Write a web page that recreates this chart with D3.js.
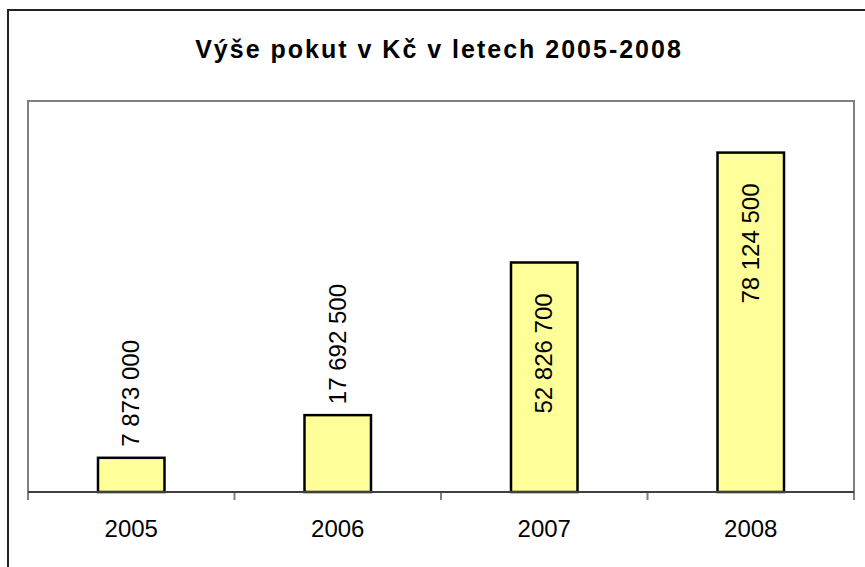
<!DOCTYPE html>
<html>
<head>
<meta charset="utf-8">
<script src="https://cdn.jsdelivr.net/npm/d3@7"></script>
<style>
  body { margin: 0; background: #fff; }
  svg { display: block; font-family: "Liberation Sans", Arial, sans-serif; }
</style>
</head>
<body>
<svg></svg>
<script>
const years = ['2005', '2006', '2007', '2008'];
const fines = [7873000, 17692500, 52826700, 78124500];
const yMax = 90000000;

const width = 865, height = 567;
const plot = { left: 28, right: 854, top: 101, bottom: 492 };

const svg = d3.select('svg')
    .attr('width', width)
    .attr('height', height);

// outer chart frame (runs off the bottom / right edge)
svg.append('rect')
    .attr('x', 8).attr('y', 10)
    .attr('width', 900).attr('height', 600)
    .attr('fill', '#fff')
    .attr('stroke', '#222')
    .attr('stroke-width', 2);

svg.append('text')
    .attr('x', 439)
    .attr('y', 58)
    .attr('text-anchor', 'middle')
    .attr('font-size', 25)
    .attr('font-weight', 'bold')
    .attr('letter-spacing', 2)
    .text('Výše pokut v Kč v letech 2005-2008');

const x = d3.scaleBand()
    .domain(years)
    .range([plot.left, plot.right])
    .paddingInner(0.678)
    .paddingOuter(0.339);

const y = d3.scaleLinear()
    .domain([0, yMax])
    .range([plot.bottom, plot.top]);

// plot area border
svg.append('path')
    .attr('d', `M${plot.left},${plot.bottom}V${plot.top}H${plot.right}V${plot.bottom}`)
    .attr('fill', 'none')
    .attr('stroke', '#808080')
    .attr('stroke-width', 2);

const fmt = v => d3.format(',')(v).replace(/,/g, ' ');

svg.append('g')
    .selectAll('rect')
    .data(fines)
    .enter().append('rect')
    .attr('x', (d, i) => x(years[i]))
    .attr('y', d => y(d))
    .attr('width', x.bandwidth())
    .attr('height', d => y(0) - y(d))
    .attr('fill', '#FFFF99')
    .attr('stroke', '#000')
    .attr('stroke-width', 2.5);

// category axis with ticks between categories
const step = x.step();
const tickX = d3.range(years.length + 1).map(i => plot.left + i * step);
svg.append('g')
    .selectAll('line')
    .data(tickX)
    .enter().append('line')
    .attr('x1', d => d).attr('x2', d => d)
    .attr('y1', plot.bottom).attr('y2', plot.bottom + 8)
    .attr('stroke', '#808080')
    .attr('stroke-width', 2);

svg.append('line')
    .attr('x1', plot.left).attr('x2', plot.right)
    .attr('y1', plot.bottom).attr('y2', plot.bottom)
    .attr('stroke', '#404040')
    .attr('stroke-width', 2);

svg.append('g')
    .selectAll('text')
    .data(years)
    .enter().append('text')
    .attr('x', d => x(d) + x.bandwidth() / 2)
    .attr('y', 537)
    .attr('text-anchor', 'middle')
    .attr('font-size', 24)
    .text(d => d);

// value labels: above short bars, inside the top of tall ones
const labelLen = 125;
svg.append('g')
    .selectAll('text')
    .data(fines)
    .enter().append('text')
    .attr('transform', (d, i) => {
      const cx = x(years[i]) + x.bandwidth() / 2 + 8;
      const top = y(d);
      const inside = top - 10 - labelLen < plot.top + 40;
      const yy = inside ? top + 26 + labelLen : top - 11;
      return `translate(${cx},${yy}) rotate(-90)`;
    })
    .attr('font-size', 24)
    .text(d => fmt(d));
</script>
</body>
</html>
